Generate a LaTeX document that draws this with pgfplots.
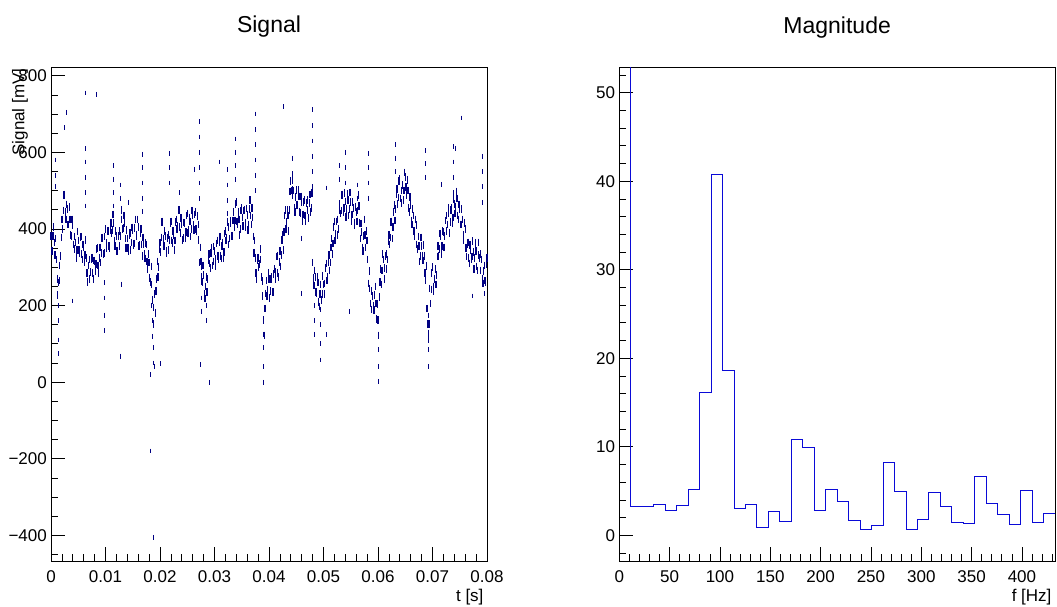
\documentclass[border=0pt]{standalone}
\usepackage{pgfplots}
\pgfplotsset{compat=1.18}
\usepackage{pgfplotstable}
\usepackage{fontspec}
\setmainfont{Liberation Sans}
\definecolor{sigcol}{RGB}{0,0,130}
\definecolor{histcol}{RGB}{10,10,215}

\pgfplotstableread{
t a b
0.00000 382 342
0.00025 342 382
0.00050 405 365
0.00075 332 375
0.00100 320 270
0.00125 228 260
0.00150 305 265
0.00175 330 378
0.00200 425 400
0.00225 448 488
0.00250 490 445
0.00275 425 464
0.00300 452 412
0.00325 412 458
0.00350 425 385
0.00375 382 425
0.00400 410 360
0.00425 348 380
0.00450 365 325
0.00475 345 393
0.00500 370 345
0.00525 338 378
0.00550 380 335
0.00575 320 359
0.00600 352 312
0.00625 332 372
0.00650 325 285
0.00675 262 305
0.00700 320 270
0.00725 288 320
0.00750 325 285
0.00775 270 318
0.00800 315 290
0.00825 308 348
0.00850 350 305
0.00875 285 324
0.00900 352 312
0.00925 337 377
0.00950 375 335
0.00975 337 380
0.01000 400 350
0.01025 363 395
0.01050 395 355
0.01075 350 398
0.01100 415 390
0.01125 398 438
0.01150 415 370
0.01175 355 394
0.01200 382 342
0.01225 342 382
0.01250 395 355
0.01275 382 425
0.01300 450 400
0.01325 403 435
0.01350 415 375
0.01375 350 398
0.01400 375 350
0.01425 343 383
0.01450 390 345
0.01475 365 404
0.01500 397 357
0.01525 362 402
0.01550 425 385
0.01575 382 425
0.01600 405 355
0.01625 358 390
0.01650 400 360
0.01675 330 378
0.01700 360 335
0.01725 323 363
0.01750 360 315
0.01775 295 334
0.01800 312 272
0.01825 262 302
0.01850 255 215
0.01875 152 195
0.01900 230 180
0.01925 238 270
0.01950 315 275
0.01975 300 348
0.02000 365 340
0.02025 378 418
0.02050 420 375
0.02075 355 394
0.02100 382 342
0.02125 337 377
0.02150 385 345
0.02175 372 415
0.02200 420 370
0.02225 363 395
0.02250 385 345
0.02275 370 418
0.02300 425 400
0.02325 408 448
0.02350 450 405
0.02375 390 429
0.02400 412 372
0.02425 377 417
0.02450 415 375
0.02475 392 435
0.02500 440 390
0.02525 398 430
0.02550 420 380
0.02575 400 448
0.02600 435 410
0.02625 398 438
0.02650 445 400
0.02675 395 434
0.02700 412 372
0.02725 312 352
0.02750 315 275
0.02775 262 305
0.02800 280 230
0.02825 218 250
0.02850 275 235
0.02875 270 318
0.02900 335 310
0.02925 298 338
0.02950 350 305
0.02975 315 354
0.03000 342 302
0.03025 322 362
0.03050 370 330
0.03075 322 365
0.03100 380 330
0.03125 323 355
0.03150 365 325
0.03175 340 388
0.03200 395 370
0.03225 378 418
0.03250 405 360
0.03275 375 414
0.03300 422 382
0.03325 382 422
0.03350 445 405
0.03375 422 465
0.03400 470 420
0.03425 413 445
0.03450 425 385
0.03475 400 448
0.03500 455 430
0.03525 408 448
0.03550 450 405
0.03575 415 454
0.03600 437 397
0.03625 412 452
0.03650 475 435
0.03675 412 455
0.03700 430 380
0.03725 338 370
0.03750 325 285
0.03775 270 318
0.03800 325 300
0.03825 308 348
0.03850 320 275
0.03875 225 264
0.03900 162 122
0.03925 192 232
0.03950 265 225
0.03975 242 285
0.04000 270 220
0.04025 238 270
0.04050 275 235
0.04075 235 283
0.04100 295 270
0.04125 288 328
0.04150 330 285
0.04175 275 314
0.04200 342 302
0.04225 332 372
0.04250 385 345
0.04275 392 435
0.04300 450 400
0.04325 418 450
0.04350 435 395
0.04375 450 498
0.04400 525 500
0.04425 488 528
0.04450 500 455
0.04475 445 484
0.04500 502 462
0.04525 462 502
0.04550 485 445
0.04575 442 485
0.04600 470 420
0.04625 438 470
0.04650 475 435
0.04675 420 468
0.04700 475 450
0.04725 428 468
0.04750 490 445
0.04775 455 494
0.04800 312 272
0.04825 252 292
0.04850 275 235
0.04875 232 275
0.04900 260 210
0.04925 198 230
0.04950 255 215
0.04975 230 278
0.05000 255 230
0.05025 258 298
0.05050 310 265
0.05075 275 314
0.05100 332 292
0.05125 312 352
0.05150 375 335
0.05175 362 405
0.05200 420 370
0.05225 388 420
0.05250 425 385
0.05275 400 448
0.05300 465 440
0.05325 448 488
0.05350 490 445
0.05375 455 494
0.05400 472 432
0.05425 452 492
0.05450 475 435
0.05475 452 495
0.05500 470 420
0.05525 438 470
0.05550 455 415
0.05575 410 458
0.05600 445 420
0.05625 448 488
0.05650 460 415
0.05675 375 414
0.05700 392 352
0.05725 342 382
0.05750 425 385
0.05775 352 395
0.05800 370 320
0.05825 258 290
0.05850 245 205
0.05875 190 238
0.05900 225 200
0.05925 188 228
0.05950 250 205
0.05975 165 204
0.06000 162 122
0.06025 222 262
0.06050 295 255
0.06075 292 335
0.06100 320 270
0.06125 298 330
0.06150 335 295
0.06175 320 368
0.06200 385 360
0.06225 378 418
0.06250 420 375
0.06275 405 444
0.06300 462 422
0.06325 452 492
0.06350 505 465
0.06375 482 525
0.06400 530 480
0.06425 468 500
0.06450 515 475
0.06475 500 548
0.06500 535 510
0.06525 488 528
0.06550 500 455
0.06575 445 484
0.06600 462 422
0.06625 412 452
0.06650 435 395
0.06675 382 425
0.06700 410 360
0.06725 348 380
0.06750 355 315
0.06775 330 378
0.06800 355 330
0.06825 318 358
0.06850 330 285
0.06875 265 304
0.06900 192 152
0.06925 112 152
0.06950 245 205
0.06975 242 285
0.07000 300 250
0.07025 238 270
0.07050 295 255
0.07075 280 328
0.07100 355 330
0.07125 348 388
0.07150 380 335
0.07175 355 394
0.07200 392 352
0.07225 382 422
0.07250 435 395
0.07275 412 455
0.07300 440 390
0.07325 418 450
0.07350 455 415
0.07375 430 478
0.07400 465 440
0.07425 458 498
0.07450 480 435
0.07475 425 464
0.07500 452 412
0.07525 412 452
0.07550 425 385
0.07575 372 415
0.07600 400 350
0.07625 328 360
0.07650 365 325
0.07675 310 358
0.07700 345 320
0.07725 328 368
0.07750 340 295
0.07775 325 364
0.07800 342 302
0.07825 292 332
0.07850 365 325
0.07875 292 335
0.07900 320 270
0.07925 258 290
0.07950 305 265
0.07975 260 308
0.08000 325 300
}\signaltable

\pgfplotstableread{
t y
0.0008 580
0.0008 540
0.0008 510
0.0013 75
0.0014 200
0.0014 160
0.0014 110
0.0024 665
0.0029 705
0.0039 212
0.0063 610
0.0063 575
0.0063 535
0.0063 495
0.0063 460
0.0063 755
0.0083 752
0.0099 260
0.0099 220
0.0099 175
0.0099 135
0.0114 565
0.0114 530
0.0114 495
0.0114 460
0.0128 515
0.0128 480
0.0128 68
0.0130 256
0.0143 470
0.0167 595
0.0167 560
0.0167 520
0.0167 480
0.0167 445
0.0185 200
0.0186 160
0.0187 120
0.0188 90
0.0188 50
0.0183 -180
0.0188 -405
0.0183 20
0.0189 40
0.0201 48
0.0218 598
0.0218 560
0.0218 520
0.0235 495
0.0264 556
0.0272 680
0.0272 640
0.0272 600
0.0272 560
0.0272 520
0.0272 480
0.0274 46
0.0276 300
0.0276 260
0.0276 220
0.0276 185
0.0286 240
0.0286 200
0.0286 160
0.0291 0
0.0310 575
0.0323 555
0.0323 515
0.0323 475
0.0323 440
0.0339 635
0.0339 600
0.0339 565
0.0339 530
0.0376 700
0.0376 660
0.0376 620
0.0376 580
0.0376 540
0.0376 500
0.0389 125
0.0389 90
0.0389 40
0.0389 0
0.0426 720
0.0444 585
0.0444 545
0.0444 505
0.0459 232
0.0459 376
0.0479 712
0.0479 670
0.0479 630
0.0479 590
0.0479 550
0.0479 510
0.0483 200
0.0483 160
0.0483 125
0.0495 190
0.0495 150
0.0495 100
0.0495 58
0.0505 125
0.0505 507
0.0530 565
0.0530 530
0.0540 600
0.0540 560
0.0540 520
0.0547 185
0.0563 515
0.0563 480
0.0583 598
0.0583 560
0.0583 520
0.0583 480
0.0600 125
0.0600 85
0.0600 40
0.0600 2
0.0633 620
0.0633 585
0.0633 550
0.0688 605
0.0688 570
0.0688 535
0.0692 175
0.0692 130
0.0692 85
0.0692 40
0.0716 517
0.0738 615
0.0738 575
0.0738 535
0.0738 495
0.0743 611
0.0754 690
0.0774 225
0.0791 590
0.0791 550
0.0791 510
0.0791 470
0.0795 232
}\spiketable

\pgfplotstableread{
f m
0 60
11.39 3.3
22.78 3.3
34.17 3.45
45.56 2.77
56.95 3.33
68.34 5.17
79.73 16.1
91.12 40.8
102.51 18.65
113.9 3.0
125.29 3.45
136.68 0.9
148.07 2.73
159.46 1.61
170.85 10.86
182.24 9.89
193.63 2.8
205.02 5.2
216.41 3.8
227.8 1.73
239.19 0.72
250.58 1.17
261.97 8.25
273.36 5.0
284.75 0.64
296.14 1.85
307.53 4.9
318.92 3.24
330.31 1.43
341.7 1.36
353.09 6.6
364.48 3.58
375.87 2.37
387.26 1.24
398.65 5.05
410.04 1.5
421.43 2.52
432.82 2.52
}\histtable

\pgfplotsset{
  rootstyle/.style={
    scale only axis,
    anchor=south west,
    height=494pt,
    axis line style={black, line width=0.8pt},
    tick align=inside,
    xtick pos=bottom, ytick pos=left,
    major tick length=14pt,
    minor tick length=7pt,
    every tick/.style={black, line width=0.8pt},
    tick label style={font=\fontsize{17}{20}\selectfont},
    /pgf/number format/assume math mode=true,
    scaled x ticks=false, scaled y ticks=false,
    yticklabel style={inner sep=0pt, xshift=-4pt},
    xticklabel style={inner sep=0pt, anchor=north, yshift=-9pt},
    title style={font=\fontsize{23}{27}\selectfont, at={(axis description cs:0.5,1)}, anchor=base, yshift=28pt},
    label style={font=\fontsize{17}{20}\selectfont},
    xlabel style={at={(axis description cs:1,0)}, anchor=base east, yshift=-40pt},
  },
  sigmarks/.style={only marks, mark=|, mark size=3.8pt, mark options={sigcol, line width=1.25pt}},
}

\begin{document}
\begin{tikzpicture}
\path[use as bounding box] (0,0) rectangle (1057pt,606pt);

\begin{axis}[rootstyle,
  at={(51pt,45pt)},
  width=436pt,
  xmin=0, xmax=0.08, ymin=-467, ymax=823,
  title={Signal},
  xlabel={t [s]},
  ylabel={Signal [mV]},
  ylabel style={at={(axis description cs:-0.0608,1.004)}, anchor=base east},
  xtick={0,0.01,0.02,0.03,0.04,0.05,0.06,0.07,0.08},
  xticklabels={0,0.01,0.02,0.03,0.04,0.05,0.06,0.07,0.08},
  minor xtick={0,0.002,0.004,0.006,0.008,0.012,0.014,0.016,0.018,0.022,0.024,0.026,0.028,0.032,0.034,0.036,0.038,0.042,0.044,0.046,0.048,0.052,0.054,0.056,0.058,0.062,0.064,0.066,0.068,0.072,0.074,0.076,0.078},
  ytick={-400,-200,0,200,400,600,800},
  yticklabels={−400,−200,0,200,400,600,800},
  minor ytick={-450,-350,-300,-250,-150,-100,-50,50,100,150,250,300,350,450,500,550,650,700,750},
]
\addplot[sigmarks] table[x=t, y=a] {\signaltable};
\addplot[sigmarks] table[x expr=\thisrow{t}+0.000125, y=b] {\signaltable};
\addplot[sigmarks, mark size=2.4pt, mark options={sigcol, line width=1pt}] table[x=t, y=y] {\spiketable};
\end{axis}

\begin{axis}[rootstyle,
  at={(619.3pt,45pt)},
  width=435.7pt,
  xmin=0, xmax=432.82, ymin=-2.9, ymax=52.9,
  title={Magnitude},
  xlabel={f [Hz]},
  xtick={0,50,100,150,200,250,300,350,400},
  minor xtick={10,20,30,40,60,70,80,90,110,120,130,140,160,170,180,190,210,220,230,240,260,270,280,290,310,320,330,340,360,370,380,390,410,420,430},
  ytick={0,10,20,30,40,50},
  minor ytick={-2,2,4,6,8,12,14,16,18,22,24,26,28,32,34,36,38,42,44,46,48,52},
]
\addplot[const plot, draw=histcol, line width=0.9pt] table[x=f, y=m] {\histtable};
\end{axis}
\end{tikzpicture}
\end{document}
